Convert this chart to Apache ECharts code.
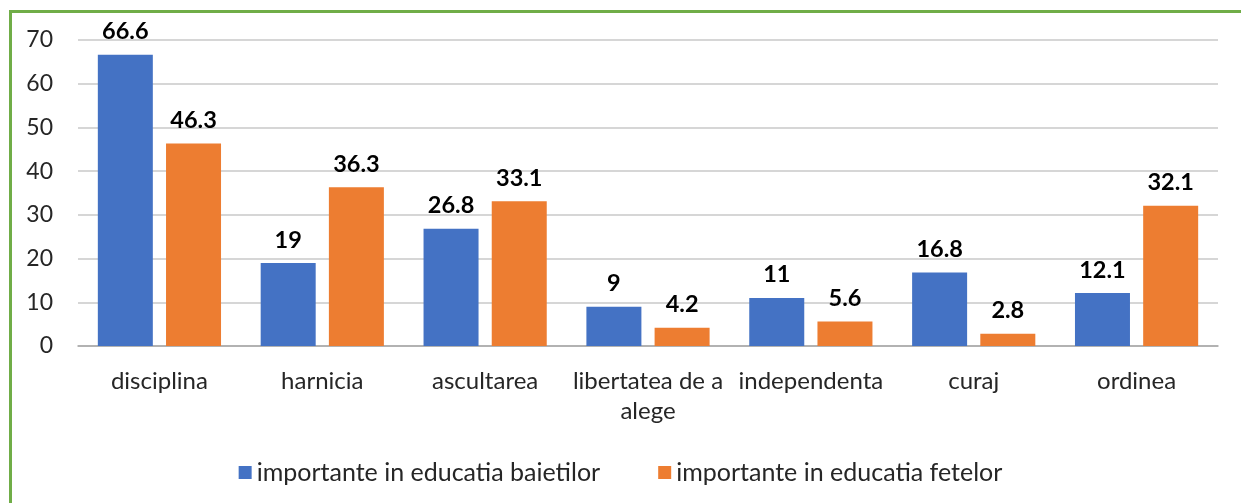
<!DOCTYPE html>
<html>
<head>
<meta charset="utf-8">
<script src="https://cdn.jsdelivr.net/npm/echarts@6/dist/echarts.min.js"></script>
<style>
  html, body { margin: 0; padding: 0; background: #fff; }
  #frame { position: absolute; left: 9px; top: 10px; width: 1240px; height: 500px;
           border-left: 3px solid #70AD47; border-top: 3px solid #70AD47; }
  #chart { position: absolute; left: 0; top: 0; width: 1241px; height: 503px; }
</style>
</head>
<body>
<div id="frame"></div>
<div id="chart"></div>
<script>
var categories = ['disciplina', 'harnicia', 'ascultarea', 'libertatea de a\nalege', 'independenta', 'curaj', 'ordinea'];
var baieti = [66.6, 19, 26.8, 9, 11, 16.8, 12.1];
var fete = [46.3, 36.3, 33.1, 4.2, 5.6, 2.8, 32.1];
var seriesNames = ['importante in educatia baietilor', 'importante in educatia fetelor'];
var yTicks = { min: 0, max: 70, interval: 10 };

var chart = echarts.init(document.getElementById('chart'));

var font = 'Lato, "Noto Sans", sans-serif';

// etichetele valorilor deasupra barelor
var barLabel = { show: true, position: 'top', distance: 11, fontSize: 23.5, fontWeight: 'bold', color: '#000' };

var option = {
  animation: false,
  textStyle: { fontFamily: font },
  grid: { left: 78, right: 23, top: 40, bottom: 157 },
  legend: {
    top: 455,
    left: 'center',
    itemWidth: 13,
    itemHeight: 13,
    itemGap: 58,
    icon: 'rect',
    textStyle: { fontSize: 25, color: '#262626', fontFamily: font },
    data: seriesNames
  },
  xAxis: {
    type: 'category',
    data: categories,
    axisTick: { show: false },
    axisLine: { lineStyle: { color: '#A6A6A6', width: 1.5 } },
    axisLabel: { fontSize: 24, color: '#262626', margin: 20, lineHeight: 30, interval: 0 }
  },
  yAxis: {
    type: 'value',
    min: yTicks.min,
    max: yTicks.max,
    interval: yTicks.interval,
    axisLine: { show: false },
    axisTick: { show: false },
    axisLabel: { fontSize: 23, color: '#262626', margin: 25 },
    splitLine: { lineStyle: { color: '#C8C8C8', width: 1.5 } }
  },
  series: [
    {
      name: seriesNames[0],
      type: 'bar',
      data: baieti,
      barWidth: 55,
      barGap: '24%',
      itemStyle: { color: '#4472C4' },
      label: barLabel
    },
    {
      name: seriesNames[1],
      type: 'bar',
      data: fete,
      barWidth: 55,
      barGap: '24%',
      itemStyle: { color: '#ED7D31' },
      label: barLabel
    }
  ]
};

chart.setOption(option);
</script>
</body>
</html>
